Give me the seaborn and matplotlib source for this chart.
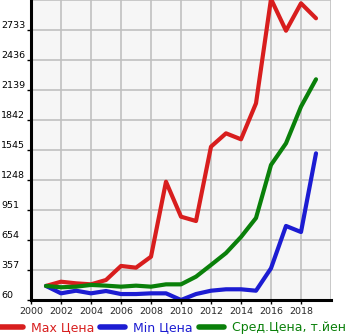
import matplotlib
matplotlib.use("Agg")
import matplotlib.pyplot as plt
import matplotlib.transforms as mtransforms
from matplotlib.lines import Line2D
import seaborn as sns
import pandas as pd

years = list(range(2001, 2020))
max_price = [199, 241, 225, 215, 258, 397, 380, 489, 1231, 885, 842,
             1578, 1710, 1651, 2007, 3040, 2726, 2997, 2849]
min_price = [199, 126, 152, 126, 149, 119, 119, 126, 126, 60, 119,
             152, 166, 166, 152, 374, 793, 733, 1512]
avg_price = [199, 186, 192, 209, 202, 192, 202, 192, 215, 215, 291,
             407, 525, 684, 872, 1397, 1611, 1974, 2245]
series_names = ["Max Цена", "Min Цена", "Сред.Цена, т.йен"]
y_ticks = [60, 357, 654, 951, 1248, 1545, 1842, 2139, 2436, 2733]
x_ticks = [2000, 2002, 2004, 2006, 2008, 2010, 2012, 2014, 2016, 2018]

colors = ["#d81e1e", "#1c1cd2", "#0a800a"]

df = pd.concat([
    pd.DataFrame({"year": years, "value": max_price, "series": series_names[0]}),
    pd.DataFrame({"year": years, "value": min_price, "series": series_names[1]}),
    pd.DataFrame({"year": years, "value": avg_price, "series": series_names[2]}),
])

sns.set_style("white")
plt.rcParams["font.family"] = ["DejaVu Sans"]

fig = plt.figure(figsize=(3.45, 3.35), dpi=100)
ax = fig.add_axes([31 / 345, 35 / 335, 300 / 345, 300 / 335])
ax.set_facecolor("#f6f6f6")

sns.lineplot(data=df, x="year", y="value", hue="series", palette=colors,
             hue_order=series_names, linewidth=3.0, ax=ax, legend=False,
             solid_joinstyle="round", solid_capstyle="round")

ax.set_xlim(2000, 2020)
ax.set_ylim(60, 3030)
ax.set_xticks(x_ticks + [2020])
ax.set_xticklabels([str(t) for t in x_ticks] + [""])
ax.set_yticks(y_ticks + [3030])
ax.set_yticklabels([])
ax.grid(True, color="#c0c0c0", linewidth=1.2)
ax.set_axisbelow(True)
ax.set_xlabel("")
ax.set_ylabel("")

for s in ["top", "right"]:
    ax.spines[s].set_visible(False)
for s in ["left", "bottom"]:
    ax.spines[s].set_color("black")
    ax.spines[s].set_linewidth(2.2)

ax.tick_params(axis="x", length=3, width=1, color="black", labelsize=6.8,
               pad=2, direction="out", bottom=True)
ax.tick_params(axis="y", length=3, width=1, color="black", left=True, direction="out")
ax.yaxis.get_major_ticks()[-1].tick1line.set_visible(False)
ax.xaxis.get_major_ticks()[-1].tick1line.set_visible(False)

trans = mtransforms.blended_transform_factory(fig.transFigure, ax.transData)
for t in y_ticks:
    ax.text(1 / 345, t, str(t), transform=trans, ha="left", va="bottom",
            fontsize=6.8, color="black")

handles = [Line2D([0], [0], color=c, linewidth=4, solid_capstyle="round") for c in colors]
leg = fig.legend(handles, series_names, loc="center", bbox_to_anchor=(172 / 345, 7 / 335),
                 ncol=3, frameon=False, fontsize=9, handlelength=2.0,
                 handletextpad=0.64, columnspacing=0.48, labelcolor=colors,
                 borderaxespad=0, borderpad=0)

fig.savefig("out.png", dpi=100)
